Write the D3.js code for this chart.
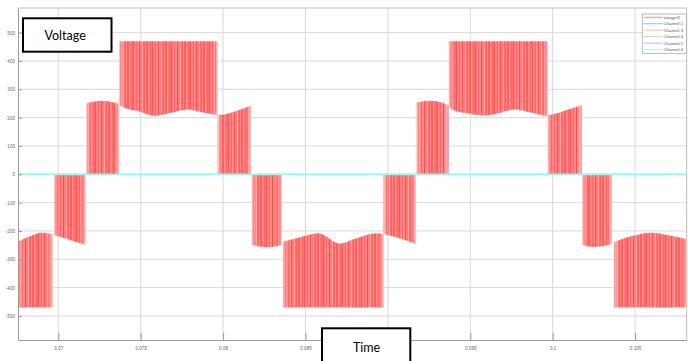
<!DOCTYPE html>
<html><head><meta charset="utf-8">
<script src="https://cdn.jsdelivr.net/npm/d3@7"></script>
<style>body{margin:0;background:#fff;} svg{display:block;}</style>
</head><body><svg id="c" width="694" height="361"></svg>
<script>
// ---------- data ----------
const xTicks = [0.07, 0.075, 0.08, 0.085, 0.09, 0.095, 0.1, 0.105];
const xTickLabels = ["0.07", "0.075", "0.08", "0.085", "0.09", "0.095", "0.1", "0.105"];
const yTicks = [-500, -400, -300, -200, -100, 0, 100, 200, 300, 400, 500];
const yTickLabels = ["-500", "-400", "-300", "-200", "-100", "0", "100", "200", "300", "400", "500"];
const legendNames = ["outage/1", "Channel 2", "Channel 3", "Channel 4", "Channel 5", "Channel 6"];
const legendColors = ["#ff8c8c", "#7fbfff", "#ffbf8c", "#b3e6a1", "#d9a6f2", "#9ffcfc"];

// switching segments of the voltage: start, end, outer level (pulses run between this level and the envelope)
const segStart = [0.06755, 0.06976, 0.07172, 0.07370, 0.07966, 0.08174, 0.08364, 0.08973, 0.09175, 0.09370, 0.09970, 0.10180, 0.10372];
const segEnd   = [0.06964, 0.07166, 0.07370, 0.07966, 0.08168, 0.08356, 0.08973, 0.09169, 0.09370, 0.09970, 0.10177, 0.10358, 0.10813];
const segBase  = [-470, 0, 0, 470, 0, 0, -470, 0, 0, 470, 0, 0, -470];

// inner envelope (capacitor voltage)
const envTime = [0.06755, 0.06828, 0.06899, 0.06964, 0.06976, 0.07166,
  0.07172, 0.07263, 0.07354, 0.07385, 0.07496, 0.07587, 0.07684, 0.07783, 0.07878, 0.07969, 0.08072, 0.08168,
  0.08174, 0.08273, 0.08356, 0.08364, 0.08467, 0.08578, 0.08710, 0.08800, 0.08933, 0.08975, 0.09169,
  0.09175, 0.09256, 0.09365, 0.09395, 0.09498, 0.09589, 0.09680, 0.09771, 0.09868, 0.09965, 0.09984, 0.10177,
  0.10180, 0.10245, 0.10358, 0.10372, 0.10469, 0.10601, 0.10712, 0.10813];
const envVolt = [-238, -219, -206, -211, -214, -250,
  251, 260, 251, 239, 221, 206, 217, 229, 218, 209, 222, 242,
  -250, -258, -250, -238, -222, -208, -245, -228, -208, -212, -246,
  253, 260, 245, 227, 214, 207, 216, 229, 218, 206, 209, 245,
  -250, -257, -246, -240, -220, -206, -216, -229];

const zeroTime = [0.06755, 0.10813];
const zeroVolt = [0, 0];

// ---------- drawing ----------
const svg = d3.select("#c");
const L = 18, R = 686.7, T = 8, B = 340;
const x = d3.scaleLinear().domain([0.067555, 0.108132]).range([L, R]);
const y = d3.scaleLinear().domain([-585, 587]).range([B, T]);

const defs = svg.append("defs");
const PW = 19;
const pat = defs.append("pattern").attr("id", "stripes").attr("patternUnits", "userSpaceOnUse")
  .attr("width", PW).attr("height", 10);
pat.append("rect").attr("width", PW).attr("height", 10).attr("fill", "#ff7474");
const stripeX = [0, 1.6, 2.9, 4.6, 6.2, 7.4, 9.1, 10.8, 12.3, 13.6, 15.4, 17.2];
const stripeC = ["#ff4a4a", "#ff9c9c", "#ff5c5c", "#ffaaaa", "#ff4242", "#ff8a8a", "#ffb4b4", "#ff5252", "#ff9494", "#ff3c3c", "#ffa2a2", "#ff6060"];
stripeX.forEach((sx, i) => pat.append("rect").attr("x", sx).attr("width", 0.8).attr("height", 10).attr("fill", stripeC[i]));

defs.append("clipPath").attr("id", "plotclip").append("rect")
  .attr("x", L).attr("y", T).attr("width", R - L).attr("height", B - T);

// grid
const grid = svg.append("g");
grid.selectAll("line.v").data(xTicks).join("line")
  .attr("x1", d => x(d)).attr("x2", d => x(d)).attr("y1", T).attr("y2", B)
  .attr("stroke", "#d8d8d8").attr("stroke-width", 1);
grid.selectAll("line.h").data(yTicks).join("line")
  .attr("x1", L).attr("x2", R).attr("y1", d => y(d)).attr("y2", d => y(d))
  .attr("stroke", "#d8d8d8").attr("stroke-width", 1);

// envelope interpolation from read samples
function env(t) {
  for (let i = 0; i < envTime.length - 1; i++) {
    if (t >= envTime[i] && t <= envTime[i + 1]) {
      const f = (t - envTime[i]) / (envTime[i + 1] - envTime[i]);
      return envVolt[i] + f * (envVolt[i + 1] - envVolt[i]);
    }
  }
  return envVolt[envVolt.length - 1];
}

const wave = svg.append("g").attr("clip-path", "url(#plotclip)");
const area = d3.area().x(d => x(d[0])).y0(d => y(d[1])).y1(d => y(d[2])).curve(d3.curveMonotoneX);
segStart.forEach((t0, i) => {
  const t1 = segEnd[i];
  const pts = [[t0, env(t0), segBase[i]]];
  envTime.forEach((t, k) => { if (t > t0 && t < t1) pts.push([t, envVolt[k], segBase[i]]); });
  pts.push([t1, env(t1), segBase[i]]);
  wave.append("path").attr("d", area(pts)).attr("fill", "url(#stripes)");
  // lighter (narrow) pulses at both ends of each switching block
  const fade = defs.append("linearGradient").attr("id", "fade" + i)
    .attr("gradientUnits", "userSpaceOnUse").attr("x1", x(t0)).attr("x2", x(t1)).attr("y1", 0).attr("y2", 0);
  const w = x(t1) - x(t0), e = Math.min(5 / w, 0.3);
  fade.append("stop").attr("offset", 0).attr("stop-color", "#fff").attr("stop-opacity", 0.45);
  fade.append("stop").attr("offset", e).attr("stop-color", "#fff").attr("stop-opacity", 0);
  fade.append("stop").attr("offset", 1 - e).attr("stop-color", "#fff").attr("stop-opacity", 0);
  fade.append("stop").attr("offset", 1).attr("stop-color", "#fff").attr("stop-opacity", 0.45);
  wave.append("path").attr("d", area(pts)).attr("fill", "url(#fade" + i + ")");
});

// zero line (Channel 6)
const line = d3.line().x(d => x(d[0])).y(d => y(d[1]));
svg.append("path").attr("d", line(zeroTime.map((t, i) => [t, zeroVolt[i]])))
  .attr("stroke", "#80ffff").attr("stroke-width", 1.8).attr("fill", "none");

// axes
const xAxis = d3.axisBottom(x).tickValues(xTicks).tickFormat((d, i) => xTickLabels[i]).tickSizeInner(-7).tickSizeOuter(0).tickPadding(10);
const gx = svg.append("g").attr("transform", `translate(0,${B})`).call(xAxis);
gx.select(".domain").attr("stroke", "#9a9a9a");
gx.selectAll(".tick line").attr("stroke", "#9a9a9a");
gx.selectAll("text").attr("font-family", "Liberation Sans, Arial, sans-serif").attr("font-size", 4.6).attr("fill", "#666").attr("dy", 0);

const yAxis = d3.axisLeft(y).tickValues(yTicks).tickFormat((d, i) => yTickLabels[i]).tickSizeInner(-4).tickSizeOuter(0).tickPadding(3);
const gy = svg.append("g").attr("transform", `translate(${L},0)`).call(yAxis);
gy.select(".domain").attr("stroke", "#9a9a9a");
gy.selectAll(".tick line").attr("stroke", "#9a9a9a");
gy.selectAll("text").attr("font-family", "Liberation Sans, Arial, sans-serif").attr("font-size", 4.6).attr("fill", "#666");

// top / right frame
svg.append("line").attr("x1", L).attr("x2", R).attr("y1", T).attr("y2", T).attr("stroke", "#bdbdbd");
svg.append("line").attr("x1", R).attr("x2", R).attr("y1", T).attr("y2", B).attr("stroke", "#bdbdbd");

// legend
const lg = svg.append("g");
lg.append("rect").attr("x", 642.3).attr("y", 14).attr("width", 44).attr("height", 39.3)
  .attr("fill", "#fff").attr("stroke", "#a8a8a8").attr("stroke-width", 0.8);
legendNames.forEach((n, i) => {
  const ly = 17.3 + i * 6.45;
  lg.append("line").attr("x1", 643.5).attr("x2", 662.5).attr("y1", ly).attr("y2", ly)
    .attr("stroke", legendColors[i]).attr("stroke-width", 1);
  lg.append("text").attr("x", 663.5).attr("y", ly).attr("dy", "0.35em").text(n)
    .attr("font-family", "Liberation Sans, Arial, sans-serif").attr("font-size", 4.3).attr("fill", "#555");
});

// annotation boxes
defs.append("clipPath").attr("id", "vclip").append("rect").attr("x", 23).attr("y", 18).attr("width", 88).attr("height", 24.5);
svg.append("rect").attr("x", 23).attr("y", 18.3).attr("width", 88.5).attr("height", 33.4)
  .attr("fill", "#fff").attr("stroke", "#000").attr("stroke-width", 2);
svg.append("text").attr("x", 44.5).attr("y", 40.3).text("Voltage").attr("clip-path", "url(#vclip)")
  .attr("font-family", "Lato, Open Sans, sans-serif").attr("font-size", 12.5).attr("fill", "#000");

svg.append("rect").attr("x", 322).attr("y", 328.3).attr("width", 88.3).attr("height", 40)
  .attr("fill", "#fff").attr("stroke", "#000").attr("stroke-width", 2);
svg.append("text").attr("x", 353).attr("y", 352).text("Time")
  .attr("font-family", "Lato, Open Sans, sans-serif").attr("font-size", 12.5).attr("fill", "#000");
</script>
</body></html>
